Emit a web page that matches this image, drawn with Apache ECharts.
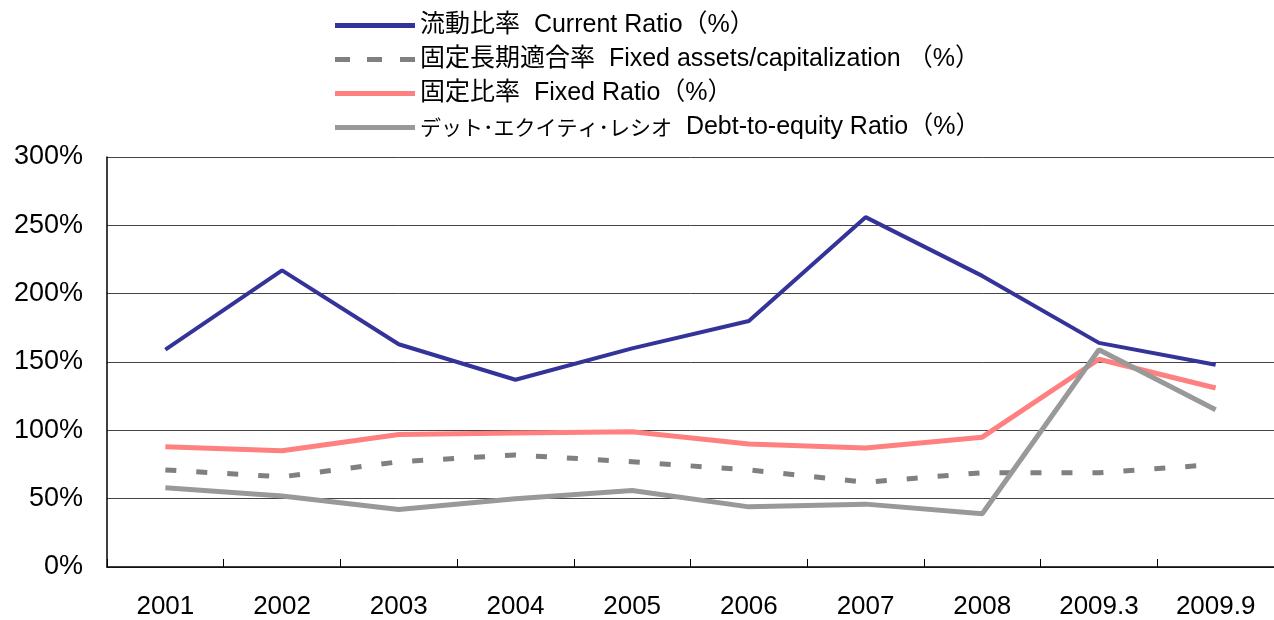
<!DOCTYPE html>
<html>
<head>
<meta charset="utf-8">
<script src="https://cdn.jsdelivr.net/npm/echarts@6/dist/echarts.min.js"></script>
<style>
  html, body { margin: 0; padding: 0; background: #fff; }
  #chart { width: 1274px; height: 620px; }
</style>
</head>
<body>
<div id="chart"></div>
<script>
// カテゴリ
const categories = ['2001', '2002', '2003', '2004', '2005', '2006', '2007', '2008', '2009.3', '2009.9'];

// 系列名
const nameCurrent = '流動比率  Current Ratio（%）';
const nameFixedLong = '固定長期適合率  Fixed assets/capitalization （%）';
const nameFixed = '固定比率  Fixed Ratio（%）';
const debtKana = 'デット･エクイティ･レシオ';
const debtEn = '  Debt-to-equity Ratio（%）';
const nameDebt = debtKana + debtEn;

// 値 (%)
const currentRatio = [159, 217, 163, 137, 160, 180, 256, 213, 164, 148];
const fixedLongRatio = [71, 66, 77, 82, 77, 71, 62, 69, 69, 75];
const fixedRatio = [88, 85, 97, 98, 99, 90, 87, 95, 152, 131];
const debtEquity = [58, 52, 42, 50, 56, 44, 46, 39, 159, 115];

const FONT = "'Liberation Sans', 'Noto Sans CJK JP', Arial, sans-serif";

// 凡例アイコン（実線と破線）
const solidIcon = 'rect';
const dashIcon = 'path://M0,0h15v5h-15z M32,0h15v5h-15z M65,0h15v5h-15z';

const chart = echarts.init(document.getElementById('chart'));

const option = {
  backgroundColor: '#ffffff',
  animation: false,
  textStyle: { fontFamily: FONT },
  legend: {
    orient: 'vertical',
    left: 330,
    top: 8,
    itemWidth: 80,
    itemHeight: 5,
    itemGap: 9,
    formatter: (name) => {
      // カタカナ部分はプロポーショナル幅に近づけるため少し小さく
      if (name === nameDebt) return '{k|' + debtKana + '}{e|' + debtEn + '}';
      return name;
    },
    textStyle: {
      fontSize: 25,
      color: '#000',
      fontFamily: FONT,
      rich: {
        k: { fontSize: 21, color: '#000', fontFamily: FONT, verticalAlign: 'bottom' },
        e: { fontSize: 25, color: '#000', fontFamily: FONT, verticalAlign: 'bottom' }
      }
    },
    data: [
      { name: nameCurrent, icon: solidIcon },
      { name: nameFixedLong, icon: dashIcon },
      { name: nameFixed, icon: solidIcon },
      { name: nameDebt, icon: solidIcon }
    ]
  },
  grid: {
    left: 107,
    right: -14,
    top: 157,
    bottom: 52,
    containLabel: false
  },
  xAxis: {
    type: 'category',
    data: categories,
    boundaryGap: true,
    axisLine: { lineStyle: { color: '#000', width: 1.5 } },
    axisTick: { show: true, inside: true, length: 8, lineStyle: { color: '#000' } },
    axisLabel: { fontSize: 26, color: '#000', margin: 27, fontFamily: FONT },
    splitLine: { show: false }
  },
  yAxis: {
    type: 'value',
    min: 0,
    max: 300,
    interval: 50,
    axisLine: { show: true, lineStyle: { color: '#000', width: 1.5 } },
    axisTick: { show: false },
    axisLabel: { formatter: '{value}%', fontSize: 27, color: '#000', margin: 24, fontFamily: FONT },
    splitLine: { show: true, lineStyle: { color: '#444', width: 1 } }
  },
  series: [
    {
      name: nameCurrent,
      type: 'line',
      data: currentRatio,
      symbol: 'none',
      lineStyle: { color: '#333399', width: 4 },
      itemStyle: { color: '#333399' }
    },
    {
      name: nameFixedLong,
      type: 'line',
      data: fixedLongRatio,
      symbol: 'none',
      lineStyle: { color: '#808080', width: 5, type: [11, 20] },
      itemStyle: { color: '#808080' }
    },
    {
      name: nameFixed,
      type: 'line',
      data: fixedRatio,
      symbol: 'none',
      lineStyle: { color: '#FF8080', width: 5 },
      itemStyle: { color: '#FF8080' }
    },
    {
      name: nameDebt,
      type: 'line',
      data: debtEquity,
      symbol: 'none',
      lineStyle: { color: '#999999', width: 5 },
      itemStyle: { color: '#999999' }
    }
  ]
};

chart.setOption(option);
</script>
</body>
</html>
